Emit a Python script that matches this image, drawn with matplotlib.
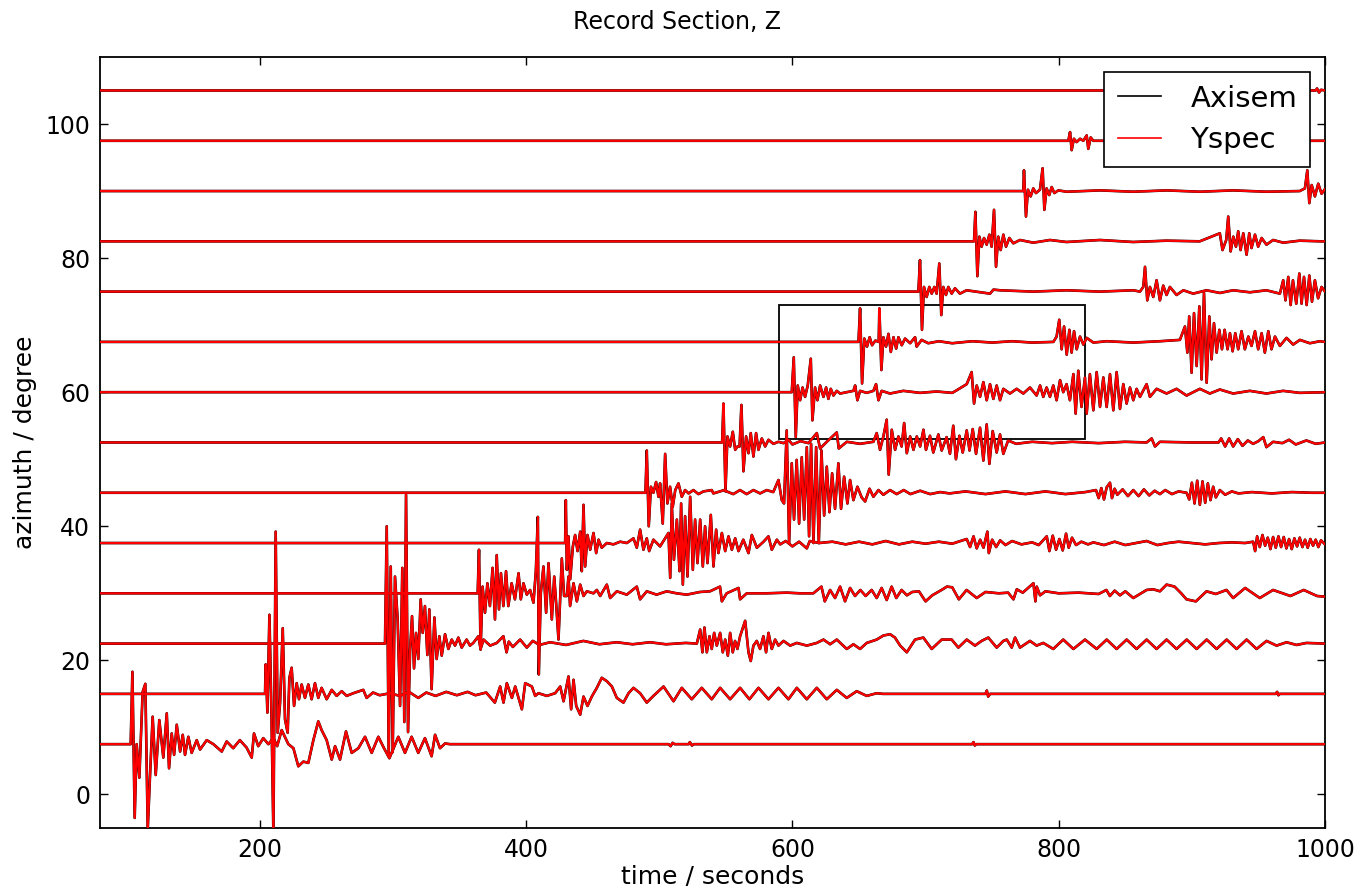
import numpy as np
import matplotlib
matplotlib.use("Agg")
import matplotlib.pyplot as plt
from matplotlib.lines import Line2D
from matplotlib.patches import Rectangle

# azimuth of each trace (baseline, degree)
azimuths = [7.5, 15, 22.5, 30, 37.5, 45, 52.5, 60, 67.5, 75, 82.5, 90, 97.5, 105]

# traces: (time [s], deflection [degree])
tr08 = [(80,0),(103,0),(104.3,10.8),(106,-11),(107.5,0),(109.5,-5),(112,7.8),(114,9),(115.8,-12.7),
        (117.5,-4.8),(119.5,4.1),(121.8,-4.6),(124.5,3.6),(127.5,-2.0),(130.1,4.6),(131.8,-3.6),(133.8,1.6),
        (135.6,-1.6),(137.6,2.9),(140.1,-1.1),(142.1,1.4),(143.8,-1.6),(146.3,1.1),(148.8,-1.3),(152.6,0.6),
        (155.1,-0.8),(160.1,0.6),(165.1,0),(171.4,-1.1),(175.1,0.4),(180,-0.6),(185,0.6),(190,-0.5),
        (193.9,-2),(195.6,1.6),(198.8,-0.3),(202.6,0.9),(206.4,0),(210.2,0.9),(213,-0.3),(216.4,2.1),
        (221.4,0),(225.2,-0.6),(228.9,-3.3),(232.7,-2.6),(236.4,-2.8),(240.2,0.6),(243.9,3.4),(246.4,2.1),
        (250.2,0.6),(254,-2.3),(256.5,-0.3),(260.2,-2.3),(264.7,1.9),(269,-1.3),(274,-0.6),(279,1.1),
        (284,-1.3),(289,1.1),(293,-0.5),(297.3,-2.1),(304,1.1),(309,-1.3),(314,1.1),(319,-1.3),(324,0.9),
        (329,-1.8),(331.6,1.4),(335.3,-0.6),(339.1,0.1),(342.8,0),(507,0),(508.5,-0.3),(510,0.2),
        (511.5,0),(522,0),(523,0.3),(524.5,-0.2),(526,0),(735,0),(736,0.3),(737,-0.2),(738,0),(1000,0)]

tr15 = [(80,0),(203.9,0),(204.4,4.4),(205.7,-2.8),(207.2,11.8),(208.7,-2.8),(210.2,-21),(211.9,24.2),
        (213.4,-5.8),(215.2,-1.3),(217.2,9.8),(218.9,-3.8),(220.9,-5.8),(222.2,2.4),(223.9,3.9),
        (225.7,-1.8),(227.7,1.6),(229.4,-0.8),(231.4,1.4),(233.9,-0.6),(236.4,1.4),(238.9,-0.8),
        (241.4,1.6),(243.9,-0.6),(246.4,0.9),(250.2,-0.8),(254,0.6),(257.7,-0.3),(261.5,0.4),(265.2,-0.3),
        (270.2,0.1),(277.7,0.6),(280.2,-0.6),(285,0.2),(290,-0.2),(297.8,0.1),(305,-0.3),(312,0.3),
        (319,-0.6),(325,0.2),(332,-0.3),(340,0.3),(348,-0.2),(356,0.3),(362,-0.2),(370,0.2),(376.5,-1.3),
        (380.5,1.1),(383,-1.3),(385.5,1.6),(389.3,-0.6),(391.8,1.1),(396.8,-2.3),(399.3,1.6),(404.3,1.1),
        (406.8,-0.3),(409.3,0.1),(415.5,-0.3),(421.8,0.1),(425.6,1.1),(428.1,-1.1),(431.8,2.6),
        (433.8,-2.3),(435.6,2.1),(437.6,-1.8),(440.6,-3.1),(443.1,-0.4),(446.1,-1.8),(449.3,-0.4),
        (453.1,0.9),(456.8,2.4),(460.6,1.9),(464.4,1.1),(468.1,-0.6),(473.1,-1.3),(476.9,0.1),(480.6,0.9),
        (485.6,0.1),(490.6,-1.3),(495.6,-0.3),(503.2,1.1),(510.7,-1.1),(516.9,0.9),(524.4,-0.8),
        (531.9,0.9),(539.4,-0.8),(545.7,0.9),(553.2,-0.8),(560.7,0.9),(567.7,-0.8),(574.5,0.9),(582,-0.8),
        (589.5,0.9),(597,-0.8),(603.3,0.9),(610.8,-0.8),(618.3,0.9),(625.8,-0.8),(633.3,0.6),(640.8,-0.6),
        (648.3,0.4),(655.8,-0.3),(663.3,0.1),(668,0),(745,0),(746,0.5),(747,-0.4),(748.5,0),(963,0),
        (964,0.3),(965,-0.2),(966,0),(1000,0)]

tr22 = [(80,0),(294,0),(295.3,17.5),(296.8,-16.7),(298.3,11.5),(299.8,-16.2),(301.5,10),(303.5,3.6),
        (305.3,-9.3),(307,11.3),(308.5,-11.7),(309.8,22.2),(311.3,-13.2),(312.8,-1.2),(314.3,4.1),
        (315.8,-3.7),(317.3,1.6),(319,-2.3),(320.8,6.6),(322.3,1.6),(324,5.6),(325.8,-1.7),(327.3,5.1),
        (329,-6.8),(331.1,3.9),(332.8,-2.3),(334.8,1.1),(336.6,-1.8),(339.1,1.4),(341.6,-0.8),(344.1,0.6),
        (346.6,-0.3),(349.1,0.9),(351.6,-0.6),(355.3,0.6),(357.8,-0.3),(360.3,0.1),(364.1,1.1),(365.8,-0.8),
        (368,0.6),(373,-0.3),(378,0.1),(382.9,1.1),(385.3,-1.3),(387,0.3),(390,-0.5),(395.5,0.6),
        (400.5,-0.6),(405,0.4),(410,-0.2),(418,0.2),(430,-0.2),(443,0.4),(455,-0.1),(468,0.2),(480,-0.1),
        (493,0.2),(505,-0.1),(520,0.1),(528.2,0),(530.7,2.1),(532.4,-1.3),(533.9,2.4),(535.7,-1.3),
        (537.7,1.1),(539.4,-0.8),(541.2,1.6),(543.2,-0.3),(545.7,1.6),(547.7,-1.3),(549.5,0.6),(551.5,-1.8),
        (553.2,1.6),(555.2,-1.3),(556.9,0.4),(558.7,-0.8),(560.7,1.1),(564.5,3.4),(567,-1.3),(568.7,-2.6),
        (570.7,-0.3),(573.2,0.4),(575.7,-0.8),(578.2,1.1),(580.2,-1.3),(582,1.6),(584.5,-0.8),(587,0.6),
        (589.5,-0.3),(593.3,0.4),(598.3,-0.3),(603.3,0.1),(610.8,-0.3),(618.3,0.1),(623.3,0.6),
        (628.3,-0.1),(633.3,0.6),(640.8,-0.8),(645.8,-0.1),(650.8,-0.8),(655.8,0.1),(663.3,0.6),
        (668.3,1.2),(673.3,1.4),(677,0.9),(680.9,-0.3),(685.9,-1.3),(692.1,0.6),(698.3,0.9),(704.6,-0.8),
        (712.1,0.6),(719.6,0.6),(724.6,-0.6),(730.9,0.6),(737.1,-0.3),(742.1,0.4),(747.1,0.9),(753.4,-0.6),
        (758.4,0.4),(761,0.6),(764.7,-0.6),(767.2,0.9),(770.9,-0.6),(778.4,0.4),(783.4,-0.3),(788.4,0.1),
        (795.9,-0.8),(803.4,0.6),(811,-0.8),(819.7,0.6),(828.5,-0.8),(836,0.6),(843.5,-0.8),(851,0.6),
        (858.5,-0.8),(866,0.6),(873.5,-0.8),(881,0.6),(888.5,-0.8),(896.1,0.6),(903.6,-0.8),(911.1,0.6),
        (918.6,-0.8),(926.1,0.6),(933.6,-0.8),(941.1,0.6),(948.6,-0.8),(956.1,0.4),(963.6,-0.3),
        (971.1,0.2),(978.6,-0.2),(986.1,0.1),(1000,0)]

tr30 = [(80,0),(363.6,0),(364.6,6.5),(365.8,-8.4),(367.3,1),(369.1,-2.9),(370.9,1.5),(372.8,-1.9),
        (374.8,3.8),(376.6,-3.9),(377.9,5.7),(379.6,-2.4),(381.1,3),(382.9,-1.9),(384.9,3.3),(386.6,-1.9),
        (389.1,1.5),(391.6,-0.9),(394.3,3),(396,-0.9),(398,1.5),(400.5,-0.2),(403,0.5),(405.5,-1.4),
        (407.3,3.3),(408.8,11.4),(409.5,-12.1),(411,0),(413,4),(415,-2.9),(416.8,4.5),(419.3,-3.9),
        (421.1,2.5),(422.5,-1.4),(424.3,-6.9),(426.8,5.2),(428.5,-0.4),(430.6,-0.4),(431.8,2.5),(433,-1.9),
        (435.6,1.5),(438.1,-1.2),(440.6,1.3),(443.1,-0.4),(445.6,0.3),(450.6,0),(453.1,0.5),(455.6,-0.4),
        (460.6,1.3),(463.1,-0.7),(468.1,0.3),(475.6,-0.2),(483.1,1),(485.6,-0.9),(490.6,0.3),(498,-0.2),
        (505.6,0.3),(513,0),(520.6,-0.2),(530.6,0.2),(538.1,0.3),(545.6,1),(547,-1.2),(550.6,0),
        (559.5,0.8),(560.7,-0.9),(565.7,0),(580.7,0),(595.7,0.1),(605.7,0),(615.7,0),(621.8,1),(624.3,-1.2),
        (628.3,0.5),(632,-0.7),(635.8,1),(639.5,-1.2),(643.3,0.8),(647,-0.4),(651,0.5),(655,-0.4),
        (659.5,0.5),(663.3,-0.7),(667,0.8),(670.8,-1),(674.5,1),(678,-0.7),(682,0.5),(686,-0.3),(690,0.2),
        (695,0.3),(700,-1.2),(705,-0.3),(712,0.5),(716,1),(720,0.9),(725,-0.9),(730.8,0.5),(738.4,-0.7),
        (745,0.2),(755,0),(762,0.1),(766,-0.9),(768.5,0.6),(773,0.1),(781,1.5),(782.5,-1.2),(783.5,1),
        (786,-0.3),(790,0.3),(800,0),(815,0.1),(830,-0.1),(835.8,0.5),(838.4,-0.4),(842,0.4),(846,-0.3),
        (850,0.3),(856,-0.7),(866,0.5),(871,0.6),(876,0.3),(881,1.3),(887,1),(892,0),(896,-0.9),(903,-1.2),
        (911,0.3),(918,-0.1),(926,0.5),(931,-0.7),(940,0.8),(951,-0.7),(961,0.5),(974,-0.4),(984,0.5),
        (994,-0.4),(1000,-0.5)]

tr38 = [(80,0),(429.3,0),(429.8,6.4),(430.6,-4),(431.8,1),(433.1,-5.4),(435.1,-0.5),(436.8,1.2),
        (438.6,-1.2),(440.6,1.7),(441.8,-4.2),(443.1,5.7),(444.3,-3.5),(446.1,1.2),(448.1,-1),(450.6,1.5),
        (452.6,-1.5),(454.4,0.5),(456.8,-0.7),(460.6,0),(465.6,-0.2),(470.6,0.2),(475.6,0),(480.6,0.7),
        (483.1,-0.7),(485.6,2),(488.1,-1),(490.6,0.7),(492.4,-1.2),(495.6,0.5),(500.6,-0.5),(506.9,1.5),
        (508.2,-5.2),(509.4,5.9),(511,-2.5),(513.2,3.5),(515.2,-4.2),(516.4,5.9),(517.7,-6.2),(519.4,4),
        (521.2,-5),(523.2,6.9),(525.2,-4),(526.9,3.5),(528.7,-3),(530.7,3.5),(532.7,-3.5),(534.4,2.5),
        (536.2,-3),(538.7,4.2),(540.7,-3.5),(542.7,2),(544.4,-1.5),(547,1.5),(549.5,-1.2),(552,1),
        (554.5,-1),(557,0.7),(559.5,-1.2),(563.1,0.5),(567,-1.5),(569.5,1.2),(573.3,-0.7),(578.3,0.2),
        (582,1),(584.5,-1),(588.3,0.5),(590.8,-0.2),(595,0.3),(600,-0.5),(605,0.2),(610.8,-0.8),(613,0.3),
        (620,0),(630,0.2),(640,-0.2),(650,0.2),(660,-0.2),(670,0.3),(680,-0.2),(690,0.2),(700,-0.1),
        (710,0.2),(720,-0.1),(730.9,0.6),(733.4,-0.6),(736,1),(738.4,-0.8),(741,0.5),(743.5,-0.7),
        (746.4,1.7),(747.5,-1.5),(750,0.5),(753,-0.6),(756,0.4),(760,-0.3),(765,0.3),(772,-0.2),(780,0.1),
        (785,-0.3),(791,1),(793,-1.2),(795.5,1.1),(798,-1),(800.5,0.6),(803,-1.1),(805.5,1.4),(807.5,-0.7),
        (810,0.8),(813,-0.3),(817,0.2),(822,-0.2),(826,0.1),(834,-0.3),(842,0.2),(850,-0.3),(858,0),
        (866,0.3),(874,-0.3),(882,0),(890,0.2),(900,0),(910,-0.2),(920,0),(930,0.1),(940,0),(946,0.2),
        (947.5,-1.2),(949,1),(951,-0.6),(953,1.2),(955,-0.4),(957,0.8),(959,-0.9),(961,0.9),(963,-0.7),
        (965,1),(967,-0.6),(969,0.9),(971,-0.8),(973,0.6),(975,-0.9),(977,0.7),(979,-0.5),(981,0.8),
        (983,-0.6),(985,0.5),(987,-0.7),(989,0.6),(991,-0.4),(993,0.5),(995,-0.6),(997,0.4),(1000,-0.2)]

tr45 = [(80,0),(489.6,0),(490.6,6.3),(492.1,-5),(493.7,0.9),(495.6,0),(497.6,1.6),(499.4,-0.6),
        (500.6,1.4),(502.6,-4.6),(504.4,5.8),(506.1,-1.6),(508.1,0.9),(510.1,-2.1),(512,0.4),(514.4,1.4),
        (516.9,-0.6),(519.4,0.4),(522,-0.1),(525.6,0.4),(529.4,-0.2),(533.2,0.2),(539.4,0.4),(540.6,-0.1),
        (545.6,0.2),(548.8,0.4),(551.8,0.1),(555.6,-0.2),(560.6,0.4),(565.6,-0.2),(570.7,0.4),(575.7,-0.1),
        (580.7,0.4),(585.6,0.1),(589.5,1.9),(592,-1.1),(593.7,-1.6),(595.7,9.3),(597.5,-7.5),(599.5,4.4),
        (601.2,-4),(603.2,4.9),(605,-4.6),(607,5.3),(608.8,-4),(610.8,6.8),(612.5,-6.5),(614,7.3),
        (615.8,-7.5),(617.8,6.8),(619.8,-7.5),(621.8,6.3),(623.8,-3.4),(625.8,3.9),(627.8,-2.9),(629.8,2.9),
        (632,-2.4),(634.5,4.4),(636.5,-2.4),(638.8,2.4),(641.3,-1.6),(643.3,1.9),(645.8,-1.1),(648.8,0.9),
        (652,-0.7),(654.6,-1.3),(657.9,0.6),(660.8,-0.6),(664.6,0.4),(668.3,-0.3),(673.3,0.4),(678.3,-0.2),
        (683.6,0.4),(688.6,-0.2),(695.9,0.3),(703.4,-0.2),(711,0.1),(718,-0.1),(730,0.2),(745,-0.2),
        (760,0.2),(775,-0.2),(790,0.2),(805,-0.2),(820,0.1),(828,0.4),(830,-0.8),(832,0.7),(834,-1),
        (836,0.8),(838.5,1.5),(840,-0.8),(842,0.6),(844,-0.3),(848,0.5),(852,-0.5),(856,0.4),(860,-0.5),
        (864,0.5),(868,-0.4),(872,0.3),(876,-0.2),(880,0.4),(885,-0.2),(890,0.2),(896,0),(898,-1),(900,1.5),
        (902,-1.6),(904,1.8),(906,-1.8),(908,1.7),(910,-1.5),(912,1.4),(914,-1.1),(916,0.9),(918,-0.7),
        (921,0.4),(925,-0.3),(930,0.2),(935,-0.1),(945,0.1),(960,-0.1),(975,0.1),(990,0),(1000,0)]

tr52 = [(80,0),(547.2,0),(548.2,5.8),(549.7,-7.3),(551.2,0.9),(553.2,-0.6),(555.2,1.6),(557,-1.1),
        (558.7,-0.6),(560.3,-0.6),(561.7,5.6),(563.2,-4.3),(565.2,0.9),(567,-1.6),(568.7,1.4),(570.7,-2.1),
        (572.7,1.4),(574.5,-1.1),(577,0.6),(579.5,-0.6),(582,0.4),(585.7,-0.2),(589.5,0.1),(593.3,-0.1),
        (597,0.4),(600,-0.3),(606,0.2),(612,-0.1),(618.3,1.4),(620.8,-0.9),(625.8,0.1),(633.3,1.5),
        (634.8,-0.9),(640.8,0.1),(650.8,-0.2),(660.8,0.1),(663.3,1.4),(665.8,-1.1),(668.3,0.9),(670.8,3.4),
        (672.3,-4.8),(674.6,1.9),(677.1,-1.1),(679.6,0.9),(682,-0.6),(683.9,2.9),(685.9,-1.6),(688.4,0.9),
        (690.9,-1.1),(693.4,0.9),(695.9,-0.6),(698.4,1.9),(700.3,-1.1),(703.3,1),(705.8,-1.5),(709.6,1.2),
        (712.1,-1.2),(715.8,0.8),(718.3,-1.7),(720.8,2.5),(722.8,-2.5),(725.4,1),(727.9,-1.5),(730.9,1.8),
        (733,-1.2),(735.4,2),(737.9,-1.7),(740.9,2.2),(743.4,-2.7),(745.9,2.7),(747.9,-3.2),(750.4,1.7),
        (753.4,-1.5),(755.9,1.2),(758.4,-1.7),(762,0.3),(768,-0.2),(780,0.1),(795,-0.1),(810,0.1),
        (830,-0.1),(850,0.1),(866,0),(869.8,0.6),(872.3,-0.6),(876,0.1),(900,0),(920,0),(922,0.6),
        (925,-0.6),(928,0.6),(931,-0.6),(934.5,0.5),(938,-0.5),(942,0.3),(946,-0.2),(950,0.2),(953.6,0.8),
        (956,-0.7),(961,0.1),(968,-0.1),(973,0.4),(978,-0.3),(986,0.3),(993,-0.2),(1000,0)]

tr60 = [(80,0),(599.5,0),(601,5.2),(602.5,-6.7),(604,1),(605.8,-1.2),(607.6,0.7),(609.5,-0.7),(611.5,1),
        (613.8,5),(615,-4.2),(617,0.7),(618.8,-1.2),(620.8,1),(623.3,-0.7),(625.3,0.7),(627,-1),(628.8,0.5),
        (630.8,-0.5),(633.3,0.2),(635.8,-0.2),(640.8,0),(645.8,0.2),(647.1,1),(648.8,-1.2),(650.8,0.2),
        (655.8,-0.1),(660.8,0.2),(662.8,1.2),(664.6,-1.2),(667,0.2),(673.3,-0.2),(683.3,0.2),(695.8,-0.1),
        (708.3,0.1),(720,-0.1),(723.5,0.3),(730.9,1.2),(734.6,3),(736.4,-1.7),(738.4,1),(740.9,-0.7),
        (743.4,1.5),(745.9,-1.2),(748.4,1.2),(750.9,-1),(753.4,1),(755.9,-1.2),(758.4,0.5),(763.4,-0.2),
        (768.4,0.5),(773.4,-0.2),(778.4,0.7),(783.4,-0.5),(786,1),(788.4,-0.7),(790.9,0.7),(793.4,-0.7),
        (795.9,1),(798.4,-1.2),(801,1.8),(803.4,0),(805.9,1.2),(808.4,-1.2),(811,2.7),(812.7,-3.2),
        (814.7,3.2),(817.1,-2.2),(819.7,2.2),(821,-3.2),(823.4,2.7),(826,-2.7),(828.5,3),(831,-2.2),
        (833.5,2.2),(836,-2.2),(838.5,2.7),(841,-2.7),(843.5,3),(846,-2.5),(848.5,1.2),(851,-1.7),
        (853.5,0.7),(856,-1.2),(858.5,0.5),(861,-0.7),(866,1.2),(868.5,-0.7),(873.5,0.5),(881,-0.2),
        (888.5,0.5),(896,-0.5),(906,0.5),(913.5,-0.2),(921,0.4),(931,-0.2),(943.5,0.2),(956,-0.2),
        (968.5,0.2),(981,-0.1),(1000,0)]

tr68 = [(80,0),(649.6,0),(650.8,5),(652.3,-6.2),(654,0.5),(656,-0.7),(658,0.7),(659.8,-0.5),(662.3,0.2),
        (664.8,0),(665.3,5),(666.8,-4.2),(668.3,0.7),(670.3,-0.7),(672.1,1.2),(673.9,-1.5),(675.9,0.7),
        (677.9,-1),(679.6,0.7),(682.1,-0.5),(684.6,0.5),(688.4,-0.2),(692.1,0.7),(693.3,-0.7),(697,0.3),
        (702,-0.2),(710,0.1),(720,-0.2),(735,0.1),(750,-0.1),(765,0.1),(780,-0.1),(796,0),(798.4,0.8),
        (800.4,3.3),(802.2,-1.1),(804,2.3),(806,-1.9),(808,1.8),(809.7,-1.6),(811.5,1.6),(813.5,-1.1),
        (816,0.8),(818.5,-0.4),(821,0.6),(826,-0.1),(836,0.1),(856,-0.1),(876,0.1),(891,0.3),(894.8,2.3),
        (896.6,-1.6),(898,3.8),(899.8,-4.6),(901.6,4.3),(903.6,-3.6),(905.6,5.3),(907.3,-5.6),(909.1,7.3),
        (911.1,-6.1),(913.1,3.8),(914.8,-2.6),(916.6,2.8),(918.6,-1.6),(920.6,1.8),(922.6,-1.1),(924.6,1.8),
        (926.8,-1.1),(928.6,1.3),(930.6,-1.4),(932.6,1.3),(934.8,-1.1),(937.3,1.6),(939.8,-1.1),(942.4,0.8),
        (944.8,-0.6),(947.4,1.6),(949.8,-1.1),(952.4,1.3),(954.8,-1.6),(957.4,1.6),(959.8,-1.1),(962.4,0.8),
        (966.1,-0.6),(971.1,0.6),(976.1,-0.4),(981.1,0.3),(988.6,-0.2),(996.1,0.1),(1000,0)]

tr75 = [(80,0),(694.6,0),(695.8,4.7),(697.3,-5.7),(698.8,0.7),(700.8,-0.8),(702.8,0.7),(704.6,-0.3),
        (706.6,0.7),(708.3,-0.3),(710.3,4.2),(711.8,-3.5),(713.3,0.7),(715.3,-0.5),(717.1,0.7),(719.6,-0.3),
        (722.1,0.5),(725.8,-0.3),(730.8,0.2),(748.4,-0.3),(751,0.3),(755.9,0.2),(780.9,0),(805.9,0.2),
        (830.9,0),(855.9,0.2),(861,0),(863.5,0.7),(864.8,3.7),(866.5,-1.3),(868.5,0.7),(871,-0.8),
        (873.5,1.7),(876,-1.3),(878.5,0.9),(881,-0.5),(883.5,0.7),(888.5,-0.5),(893.6,0.2),(901,-0.3),
        (911,0.2),(921,-0.2),(931,0.2),(943.6,-0.1),(956,0.2),(966.1,-0.3),(968.6,1.7),(970.3,-1.3),
        (972.4,2.2),(974.2,-2),(975.9,1.7),(978.4,-1.8),(980.7,2.7),(982.4,-1.8),(984.2,2.2),(986.2,-2),
        (988.2,2.4),(990.2,-1.5),(992.4,1.7),(994.8,-1),(997.4,0.7),(1000,0)]

tr82 = [(80,0),(736.4,0),(737.4,4.4),(738.9,-5.2),(740.4,0.7),(742.1,-0.8),(743.9,0.5),(745.9,-0.5),
        (747.9,1),(749.6,-0.8),(751.4,4.7),(752.9,-3.8),(754.6,0.7),(756.4,-1.3),(758.4,1),(760.4,-0.8),
        (762.9,0.5),(765.9,-0.3),(770.9,0.2),(780.9,-0.2),(793.4,0.2),(805.9,-0.1),(830.9,0.2),(855.9,-0.1),
        (880.9,0.1),(905.9,0),(921,1.2),(923,-1.3),(925.8,0.2),(927.3,3.7),(929.1,-1.5),(931.1,0.7),
        (933.1,-0.8),(934.8,1.5),(936.6,-1.3),(938.6,1.2),(941.1,-2),(943.1,1.2),(944.8,-1),(947.4,1),
        (949.8,-0.8),(952.4,0.5),(956,-0.5),(961,0.2),(968.6,-0.2),(981,0.1),(997,0),(1000,0)]

tr90 = [(80,0),(773.4,0),(773.9,3.1),(775.4,-3.8),(776.9,0.2),(778.9,-0.8),(780.9,0.4),(782.9,-0.3),
        (785.9,0.2),(787.9,3.4),(789.2,-2.8),(790.9,0.4),(792.9,-0.6),(794.7,0.6),(796.7,-0.3),(799.7,0.1),
        (806,-0.1),(831,0.1),(856,-0.1),(881,0.1),(906,-0.1),(931,0.1),(956,-0.1),(981,0),(984.9,0.4),
        (986.7,3.1),(988.2,-1.8),(990,0.9),(992.4,-0.8),(994.9,1.1),(997.4,-0.4),(1000,0.3)]

tr98 = [(80,0),(807.2,0),(808.5,1.3),(809.7,-1.4),(811.4,0.3),(813.5,-0.2),(816,0.3),(818.5,0),(821,0.8),
        (822.2,-1.2),(824,0.5),(826,0),(1000,0)]

tr105 = [(80,0),(993,0),(994,0.3),(995.5,-0.3),(997,0.1),(1000,0)]

traces = [tr08, tr15, tr22, tr30, tr38, tr45, tr52, tr60, tr68, tr75, tr82, tr90, tr98, tr105]

# zoom window drawn on the section
box_t = [590, 820]
box_az = [53, 73]

fig = plt.figure(figsize=(13.54, 8.86), dpi=100)
ax = fig.add_axes([0.0739, 0.0655, 0.9047, 0.8702])

ax.add_patch(Rectangle((box_t[0], box_az[0]), box_t[1] - box_t[0], box_az[1] - box_az[0],
                       fill=False, edgecolor='black', linewidth=1.3, zorder=1))

for az, tr in zip(azimuths, traces):
    t, a = np.array(tr).T
    ax.plot(t, az + a, color='black', linewidth=1.9, zorder=2)   # Axisem
    ax.plot(t, az + a, color='red', linewidth=1.6, zorder=3)     # Yspec

ax.set_xlim(80, 1000)
ax.set_ylim(-5, 110)
ax.set_xticks([200, 400, 600, 800, 1000])
ax.set_yticks([0, 20, 40, 60, 80, 100])
ax.tick_params(direction='in', top=True, right=True, length=6, width=1, labelsize=17, pad=7)
for sp in ax.spines.values():
    sp.set_linewidth(1.3)

ax.set_xlabel('time / seconds', fontsize=18, labelpad=2)
ax.set_ylabel('azimuth / degree', fontsize=18, labelpad=6)
fig.suptitle('Record Section, Z', fontsize=17, y=1 - 22 / 886, va='center')

handles = [Line2D([], [], color='black', linewidth=1.2), Line2D([], [], color='red', linewidth=1.2)]
leg = ax.legend(handles, ['Axisem', 'Yspec'], loc='upper right', fontsize=21, fancybox=False,
                framealpha=1, edgecolor='black', handlelength=1.5, handletextpad=1.0,
                labelspacing=0.45, borderpad=0.45)
leg.get_frame().set_linewidth(1.2)
leg.set_zorder(5)

fig.savefig('out.png', dpi=100)
